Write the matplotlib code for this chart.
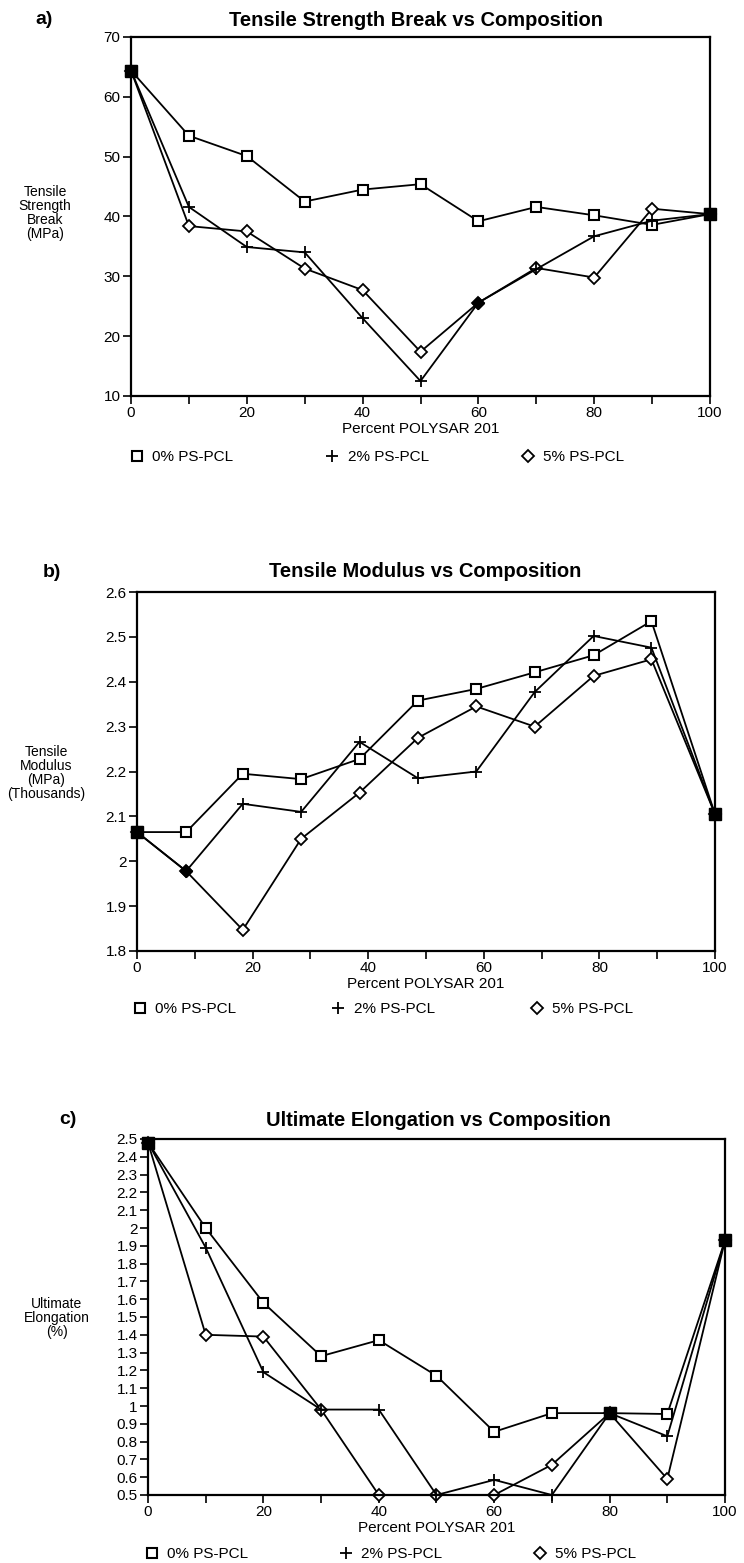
import matplotlib
matplotlib.use("Agg")
import matplotlib.pyplot as plt
from matplotlib.lines import Line2D
import numpy as np

plt.rcParams['font.family'] = ['Liberation Sans', 'DejaVu Sans']

# ---- data ----
labels = ["0% PS-PCL", "2% PS-PCL", "5% PS-PCL"]

x_a = [0, 10, 20, 30, 40, 50, 60, 70, 80, 90, 100]
tsb_0 = [64.4, 53.5, 50.1, 42.5, 44.5, 45.4, 39.2, 41.6, 40.2, 38.6, 40.4]
tsb_2 = [64.4, 41.6, 34.9, 34.0, 23.0, 12.5, 25.6, 31.2, 36.7, 39.3, 40.4]
tsb_5 = [64.4, 38.4, 37.5, 31.3, 27.7, 17.4, 25.6, 31.4, 29.8, 41.3, 40.4]

x_b = [0, 8.5, 18.3, 28.4, 38.5, 48.6, 58.7, 68.8, 79, 89, 100]
mod_0 = [2.065, 2.065, 2.195, 2.183, 2.228, 2.358, 2.384, 2.421, 2.459, 2.535, 2.105]
mod_2 = [2.065, 1.978, 2.128, 2.110, 2.266, 2.185, 2.200, 2.377, 2.502, 2.476, 2.105]
mod_5 = [2.065, 1.978, 1.847, 2.050, 2.153, 2.275, 2.345, 2.300, 2.413, 2.450, 2.105]

x_c = [0, 10, 20, 30, 40, 50, 60, 70, 80, 90, 100]
elo_0 = [2.48, 2.00, 1.58, 1.28, 1.37, 1.17, 0.855, 0.96, 0.96, 0.955, 1.93]
elo_2 = [2.48, 1.89, 1.19, 0.98, 0.98, 0.50, 0.585, 0.50, 0.96, 0.83, 1.93]
elo_5 = [2.48, 1.40, 1.39, 0.98, 0.50, 0.50, 0.50, 0.67, 0.96, 0.59, 1.93]

W, H = 744, 1563
fig = plt.figure(figsize=(W / 100, H / 100), dpi=100)


def px_box(left, right, top, bottom):
    return [left / W, 1 - bottom / H, (right - left) / W, (bottom - top) / H]


styles = [
    dict(marker='s', markersize=7, markerfacecolor='white', markeredgewidth=1.5),
    dict(marker='+', markersize=9, markeredgewidth=1.3),
    dict(marker='D', markersize=6, markerfacecolor='white', markeredgewidth=1.3),
]
# the '+' series sits on top so its marks stay visible where it meets the diamonds
layer = [2, 2.2, 2.1]


def panel(box, x, series, ylim, yticks, colspace, leg_xy, fill_pairs=True):
    ax = fig.add_axes(box)
    for ys, st, z in zip(series, styles, layer):
        ax.plot(x, ys, color='black', lw=1.3, clip_on=False, zorder=z, **st)

    # overlapping markers print as solid shapes in the original
    arr = np.array(series)
    xs = np.array(x)
    same_all = np.ptp(arr, axis=0) < 1e-9
    ax.plot(xs[same_all], arr[0][same_all], 's', color='black',
            markersize=8, clip_on=False, zorder=3)
    if fill_pairs:
        same_25 = (np.abs(arr[1] - arr[2]) < 1e-9) & ~same_all
        ax.plot(xs[same_25], arr[2][same_25], 'D', color='black',
                markersize=6, clip_on=False, zorder=3)

    ax.set_xlim(0, 100)
    ax.set_ylim(*ylim)
    ax.set_xticks(range(0, 101, 20))
    ax.set_xticks(range(10, 100, 20), minor=True)
    ax.set_yticks(yticks)
    ax.set_yticklabels(['%g' % round(v, 2) for v in yticks])
    ax.tick_params(which='both', direction='out', length=6, width=1.2,
                   labelsize=11, pad=1.5)
    for s in ax.spines.values():
        s.set_linewidth(1.6)
    ax.set_xlabel("Percent POLYSAR 201", fontsize=11, labelpad=1)

    handles = [Line2D([], [], ls='none', color='black', **st) for st in styles]
    ax.legend(handles, labels, loc='center left', ncol=3, frameon=False,
              bbox_to_anchor=(leg_xy[0] / W, 1 - leg_xy[1] / H),
              bbox_transform=fig.transFigure, fontsize=11,
              borderpad=0, borderaxespad=0, handlelength=1.0,
              handletextpad=0.5, columnspacing=colspace)
    return ax


# a) tensile strength
panel(px_box(131, 710, 37, 396), x_a, [tsb_0, tsb_2, tsb_5],
      (10, 70), list(range(10, 71, 10)), 6.0, (129, 457))
fig.text(44 / W, 1 - 20 / H, "a)", fontsize=14, fontweight='bold',
         ha='center', va='center')
fig.text(416 / W, 1 - 20 / H, "Tensile Strength Break vs Composition",
         fontsize=14.5, fontweight='bold', ha='center', va='center')
fig.text(45 / W, 1 - 213 / H, "Tensile\nStrength\nBreak\n(MPa)", fontsize=10,
         ha='center', va='center', multialignment='center', linespacing=1.0)

# b) tensile modulus
panel(px_box(137, 715, 592, 951), x_b, [mod_0, mod_2, mod_5],
      (1.8, 2.6), list(np.arange(1.8, 2.61, 0.1)), 6.2, (132, 1009))
fig.text(52 / W, 1 - 573 / H, "b)", fontsize=14, fontweight='bold',
         ha='center', va='center')
fig.text(425 / W, 1 - 572 / H, "Tensile Modulus vs Composition",
         fontsize=14.5, fontweight='bold', ha='center', va='center')
fig.text(46 / W, 1 - 773 / H, "Tensile\nModulus\n(MPa)\n(Thousands)", fontsize=10,
         ha='center', va='center', multialignment='center', linespacing=1.0)

# c) ultimate elongation
panel(px_box(148, 725, 1139, 1495), x_c, [elo_0, elo_2, elo_5],
      (0.5, 2.5), list(np.arange(0.5, 2.51, 0.1)), 5.9, (144, 1554),
      fill_pairs=False)
fig.text(68 / W, 1 - 1120 / H, "c)", fontsize=14, fontweight='bold',
         ha='center', va='center')
fig.text(438 / W, 1 - 1120 / H, "Ultimate Elongation vs Composition",
         fontsize=14.5, fontweight='bold', ha='center', va='center')
fig.text(57 / W, 1 - 1318 / H, "Ultimate\nElongation\n(%)", fontsize=10,
         ha='center', va='center', multialignment='center', linespacing=1.0)

fig.savefig("out.png", dpi=100)
